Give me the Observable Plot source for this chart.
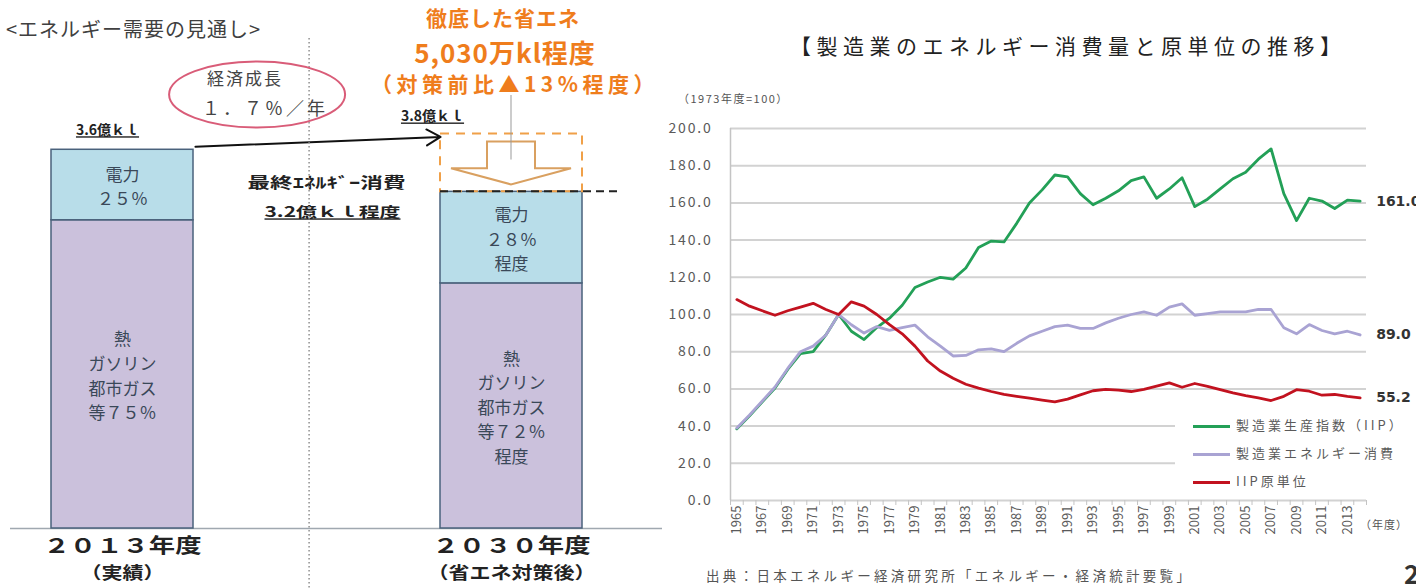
<!DOCTYPE html>
<html><head><meta charset="utf-8">
<script src="https://cdn.jsdelivr.net/npm/d3@7"></script>
<script src="https://cdn.jsdelivr.net/npm/@observablehq/plot@0.6"></script>
<style>
body{margin:0;background:#fff;overflow:hidden;font-family:"Noto Sans CJK JP",sans-serif;}
#wrap{position:relative;width:1416px;height:588px;overflow:hidden;background:#fff;}
.abs{position:absolute;white-space:nowrap;line-height:1;}
#left,#right{position:absolute;top:0;}
#left{left:0;} #right{left:640px;}
#right g[aria-label="y-axis tick label"] text{letter-spacing:1.8px;}
.legend{position:absolute;left:1175px;top:410px;width:241px;height:86px;background:#fff;}
.li{position:absolute;left:18px;font-size:13px;line-height:1.2;color:#5a5a5a;letter-spacing:3px;white-space:nowrap;}
.li span{display:inline-block;width:37px;height:0;border-top:3px solid;vertical-align:middle;margin-right:6px;}
</style></head><body><div id="wrap"></div>
<script>
// ---------- left panel data ----------
const barCats = ["2013年度", "2030年度"];
const partNames = ["熱・ガソリン・都市ガス等", "電力"];
const partColors = ["#cbc1dc", "#b8dde9"];
const heatVals = [2.93, 2.33];       // 億kl (as drawn)
const powerVals = [0.67, 0.87];      // 億kl (as drawn)
const heatText = ["熱\nガソリン\n都市ガス\n等７５％", "熱\nガソリン\n都市ガス\n等７２％\n程度"];
const powerText = ["電力\n２５％", "電力\n２８％\n程度"];
const barYearText = ["２０１３年度", "２０３０年度"];
const barSubText = ["（実績）", "（省エネ対策後）"];
const demand2013 = 3.6, demand2030Before = 3.75, demand2030After = 3.2;

// ---------- right panel data ----------
const years = [1965,1966,1967,1968,1969,1970,1971,1972,1973,1974,1975,1976,1977,1978,1979,1980,1981,1982,1983,1984,1985,1986,1987,1988,1989,1990,1991,1992,1993,1994,1995,1996,1997,1998,1999,2000,2001,2002,2003,2004,2005,2006,2007,2008,2009,2010,2011,2012,2013,2014];
const iip = [38.5,45.5,53,60.5,70.5,79,80,89,100,91, 86.5,93,98,105,114.5,117.5,120,119,125,136, 139.5,139,149,160,167,175,174,165,159,162.5, 166.5,172,174,162.5,167.5,173.5,158,162,167.5,173, 176.5,183.5,189,165,150.5,162.5,161,157,161.5,161];
const energy = [39,46,53.5,61,71,80,83,89,100,94.5, 90,93.5,91.5,93,94.3,88,83,77.7,78,81, 81.5,80,84.5,88.5,91,93.5,94.3,92.5,92.5,95.5, 98,100,101.4,99.6,104,105.7,99.6,100.5,101.4,101.4, 101.4,102.7,102.7,92.9,89.6,94.6,91.4,89.6,91,89];
const intensity = [108,104.5,102,99.6,102,104,106,102.7,100,106.8, 104.5,100,94.6,89.6,83,75,69.6,65.7,62.5,60.4, 58.6,57,56,55,54,53,54.5,56.8,59,59.8, 59.3,58.6,59.8,61.5,63.2,60.9,62.9,61.4,59.6,57.9, 56.4,55.2,53.75,56,59.6,58.75,56.6,57,56,55.2];
const seriesNames = ["製造業生産指数（IIP）", "製造業エネルギー消費", "IIP原単位"];
const seriesColors = ["#23a057", "#a9a3d3", "#c2121f"];
const yTicks = [0,20,40,60,80,100,120,140,160,180,200];
const xLabelYears = [1965,1967,1969,1971,1973,1975,1977,1979,1981,1983,1985,1987,1989,1991,1993,1995,1997,1999,2001,2003,2005,2007,2009,2011,2013];

const wrap = document.getElementById("wrap");
const jp = '"Noto Sans CJK JP", sans-serif';

// ---------- left plot ----------
const barRows = [];
barCats.forEach((c, i) => {
  barRows.push({c, part: partNames[0], v: heatVals[i]});
  barRows.push({c, part: partNames[1], v: powerVals[i]});
});
const heatLabelRows = barCats.map((c, i) => ({c, y: heatVals[i] / 2, t: heatText[i]}));
const powerLabelRows = barCats.map((c, i) => ({c, y: heatVals[i] + powerVals[i] / 2, t: powerText[i]}));
const catLabelRows = barCats.map((c, i) => ({c, t: barYearText[i], s: barSubText[i]}));

const left = Plot.plot({
  width: 670, height: 588, marginTop: 2, marginBottom: 60, marginLeft: 0, marginRight: 0,
  style: {fontFamily: jp, background: "transparent", overflow: "visible"},
  x: {type: "band", domain: barCats, range: [-72.5, 705.5], paddingInner: 0.635, paddingOuter: 0.3175, axis: null},
  y: {domain: [0, 5], axis: null},
  color: {domain: partNames, range: partColors},
  marks: [
    Plot.ruleY([0], {stroke: "#a0a8b0", strokeWidth: 1.5, insetLeft: 10, insetRight: 8}),
    Plot.barY(barRows, {x: "c", y: "v", fill: "part", stroke: "#4a627c", strokeWidth: 1.5}),
    Plot.barY([{c: barCats[1], lo: demand2030After, hi: demand2030Before}], {x: "c", y1: "lo", y2: "hi", fill: "none", stroke: "#f0a048", strokeWidth: 2, strokeDasharray: "9,7"}),
    Plot.text(heatLabelRows, {x: "c", y: "y", text: "t", fontSize: 17, lineHeight: 1.45, fill: "#3a4858"}),
    Plot.text(powerLabelRows, {x: "c", y: "y", text: "t", fontSize: 17, lineHeight: 1.45, fill: "#3a4858"}),
    Plot.text(catLabelRows, {x: "c", y: 0, text: "t", dy: 18, fontSize: 20, fontWeight: "bold", fill: "#222"}),
    Plot.text(catLabelRows, {x: "c", y: 0, text: "s", dy: 45, fontSize: 17, fontWeight: "bold", fill: "#222"}),
    Plot.text([{c: barCats[0], v: demand2013, t: "3.6億ｋｌ"}], {x: "c", y: "v", text: "t", dx: -15, dy: -19, fontSize: 14, fontWeight: "bold", fill: "#222"}),
    Plot.text([{c: barCats[1], v: demand2030Before, t: "3.8億ｋｌ"}], {x: "c", y: "v", text: "t", dx: -79, dy: -17, fontSize: 14, fontWeight: "bold", fill: "#222"}),
    Plot.text([{c: barCats[1], v: demand2030After, t: "最終ｴﾈﾙｷﾞｰ消費"}], {x: "c", y: "v", text: "t", dx: -106, dy: -9, textAnchor: "end", fontSize: 15, fontWeight: "bold", fill: "#222"}),
    Plot.text([{c: barCats[1], v: demand2030After, t: "3.2億ｋｌ程度"}], {x: "c", y: "v", text: "t", dx: -111, dy: 21, textAnchor: "end", fontSize: 14, fontWeight: "bold", fill: "#222"}),
    Plot.arrow([{a: barCats[0], b: barCats[1], v1: demand2013, v2: demand2030Before}], {x1: "a", x2: "b", y1: "v1", y2: "v2", insetStart: 73, insetEnd: 71, stroke: "#111", strokeWidth: 2, headLength: 12})
  ]
});
left.id = "left";
wrap.appendChild(left);

// annotation shapes from the scales
{
  const sx = left.scale("x"), sy = left.scale("y");
  const bw = sx.bandwidth;
  const b1L = sx.apply(barCats[0]), b1R = b1L + bw;
  const b2L = sx.apply(barCats[1]), b2C = b2L + bw / 2;
  const yTop = sy.apply(demand2030Before), yBot = sy.apply(demand2030After);
  const svg = d3.select(left);
  const g = svg.append("g");
  const sep = b1R + (b2L - b1R) * 0.47;
  g.append("line").attr("x1", sep).attr("x2", sep).attr("y1", 38).attr("y2", 588)
    .attr("stroke", "#888").attr("stroke-width", 1.4).attr("stroke-dasharray", "1.5,2.5");
  g.append("line").attr("x1", b2L).attr("x2", b2L + bw + 40).attr("y1", yBot).attr("y2", yBot)
    .attr("stroke", "#222").attr("stroke-width", 2).attr("stroke-dasharray", "8,5");
  const h = yBot - yTop;
  const ys = yTop + h * 0.14, yb = yTop + h * 0.6, yt = yTop + h * 0.88;
  g.append("path").attr("d", `M${b2C-24},${ys}H${b2C+24}V${yb}H${b2C+60}L${b2C},${yt}L${b2C-60},${yb}H${b2C-24}Z`)
    .attr("fill", "#fff").attr("stroke", "#d9a060").attr("stroke-width", 2);
  g.append("line").attr("x1", b2C).attr("x2", b2C).attr("y1", 95).attr("y2", yTop + h * 0.45)
    .attr("stroke", "#999").attr("stroke-width", 1);
  g.append("ellipse").attr("cx", sep - 52).attr("cy", yTop - 39).attr("rx", 88).attr("ry", 33)
    .attr("fill", "none").attr("stroke", "#d95c78").attr("stroke-width", 2);
  const stretch = {"最終ｴﾈﾙｷﾞｰ消費": 158, "3.2億ｋｌ程度": 136, "２０１３年度": 158, "２０３０年度": 158, "（実績）": 84, "（省エネ対策後）": 168};
  svg.selectAll("text").each(function(){
    const t = this.textContent;
    if (["3.6億ｋｌ","3.8億ｋｌ","3.2億ｋｌ程度"].includes(t)) this.style.textDecoration = "underline";
    if (stretch[t]) { this.setAttribute("textLength", stretch[t]); this.setAttribute("lengthAdjust", "spacingAndGlyphs"); }
  });
}

// ---------- right plot ----------
const lineRows = [];
[iip, energy, intensity].forEach((arr, k) => arr.forEach((v, j) => lineRows.push({year: years[j], value: v, series: seriesNames[k]})));
const lastIdx = years.length - 1;
const endRows = [iip, energy, intensity].map((arr, k) => ({year: years[lastIdx], value: arr[lastIdx], series: seriesNames[k]}));
const boundaries = years.map(y => y - 0.5).concat([years[lastIdx] + 0.5]);

const right = Plot.plot({
  width: 776, height: 588, marginLeft: 90, marginRight: 50, marginTop: 128, marginBottom: 88,
  style: {fontFamily: jp, background: "transparent", overflow: "visible"},
  x: {type: "linear", domain: [years[0] - 0.5, years[lastIdx] + 0.5]},
  y: {domain: [0, 200]},
  color: {domain: seriesNames, range: seriesColors},
  marks: [
    Plot.gridY(yTicks, {stroke: "#d2d2d2", strokeOpacity: 1, strokeWidth: 2}),
    Plot.ruleX([years[0] - 0.5], {stroke: "#c4c4c4", strokeWidth: 1.5}),
    Plot.axisY(yTicks, {tickSize: 0, tickPadding: 18, tickFormat: d => d.toFixed(1), fontSize: 14, fill: "#5a5a5a", label: null}),
    Plot.axisX(boundaries, {tickSize: 5, tickFormat: () => "", stroke: "#c4c4c4", label: null}),
    Plot.axisX(xLabelYears, {tickSize: 0, tickRotate: -90, tickPadding: 5, tickFormat: d => String(d), fontSize: 13, fill: "#5a5a5a", label: null}),
    Plot.line(lineRows, {x: "year", y: "value", stroke: "series", strokeWidth: 2.8}),
    Plot.text(endRows, {x: "year", y: "value", text: d => d.value.toFixed(1), dx: 16, textAnchor: "start", fontSize: 14, fontWeight: "bold", fill: "#333", fontFamily: '"DejaVu Sans", sans-serif'})
  ]
});
right.id = "right";
wrap.appendChild(right);

// ---------- text blocks ----------
function addText(txt, css) {
  const d = document.createElement("div");
  d.className = "abs";
  d.textContent = txt;
  Object.assign(d.style, css);
  wrap.appendChild(d);
  return d;
}
addText("<エネルギー需要の見通し>", {left: "6px", top: "19px", fontSize: "20px", color: "#404040", letterSpacing: "1px"});
const orange = "#ef7d1c";
addText("徹底した省エネ", {left: "353px", width: "300px", textAlign: "center", top: "7px", fontSize: "21px", fontWeight: "bold", color: orange, letterSpacing: "1px"});
addText("5,030万kl程度", {left: "355px", width: "300px", textAlign: "center", top: "39px", fontSize: "26px", fontWeight: "bold", color: orange, letterSpacing: "1px"});
addText("（対策前比▲13%程度）", {left: "340px", width: "350px", textAlign: "center", top: "73px", fontSize: "21px", fontWeight: "bold", color: orange, letterSpacing: "4.5px"});
addText("経済成長", {left: "195px", width: "100px", textAlign: "center", top: "69px", fontSize: "17px", color: "#444", letterSpacing: "2px"});
addText("１．７％／年", {left: "185px", width: "160px", textAlign: "center", top: "98px", fontSize: "18px", color: "#444", letterSpacing: "3px"});
addText("【製造業のエネルギー消費量と原単位の推移】", {left: "790px", top: "35px", fontSize: "21px", color: "#222", letterSpacing: "5.5px"});
addText("（1973年度=100）", {left: "678px", top: "93px", fontSize: "11px", color: "#555", letterSpacing: "1.5px"});
addText("（年度）", {left: "1360px", top: "519px", fontSize: "11px", color: "#555", letterSpacing: "1px"});
addText("出典：日本エネルギー経済研究所「エネルギー・経済統計要覧」", {left: "706px", top: "569px", fontSize: "13.5px", color: "#555", letterSpacing: "3.3px"});
addText("2", {left: "1404px", top: "560px", fontSize: "26px", fontWeight: "bold", color: "#333"});

// legend
const lg = document.createElement("div");
lg.className = "legend";
seriesNames.forEach((n, i) => {
  const it = document.createElement("div");
  it.className = "li";
  it.style.top = (7 + i * 28) + "px";
  const sw = document.createElement("span");
  sw.style.borderTopColor = seriesColors[i];
  it.appendChild(sw);
  it.appendChild(document.createTextNode(n));
  lg.appendChild(it);
});
wrap.appendChild(lg);
</script></body></html>
